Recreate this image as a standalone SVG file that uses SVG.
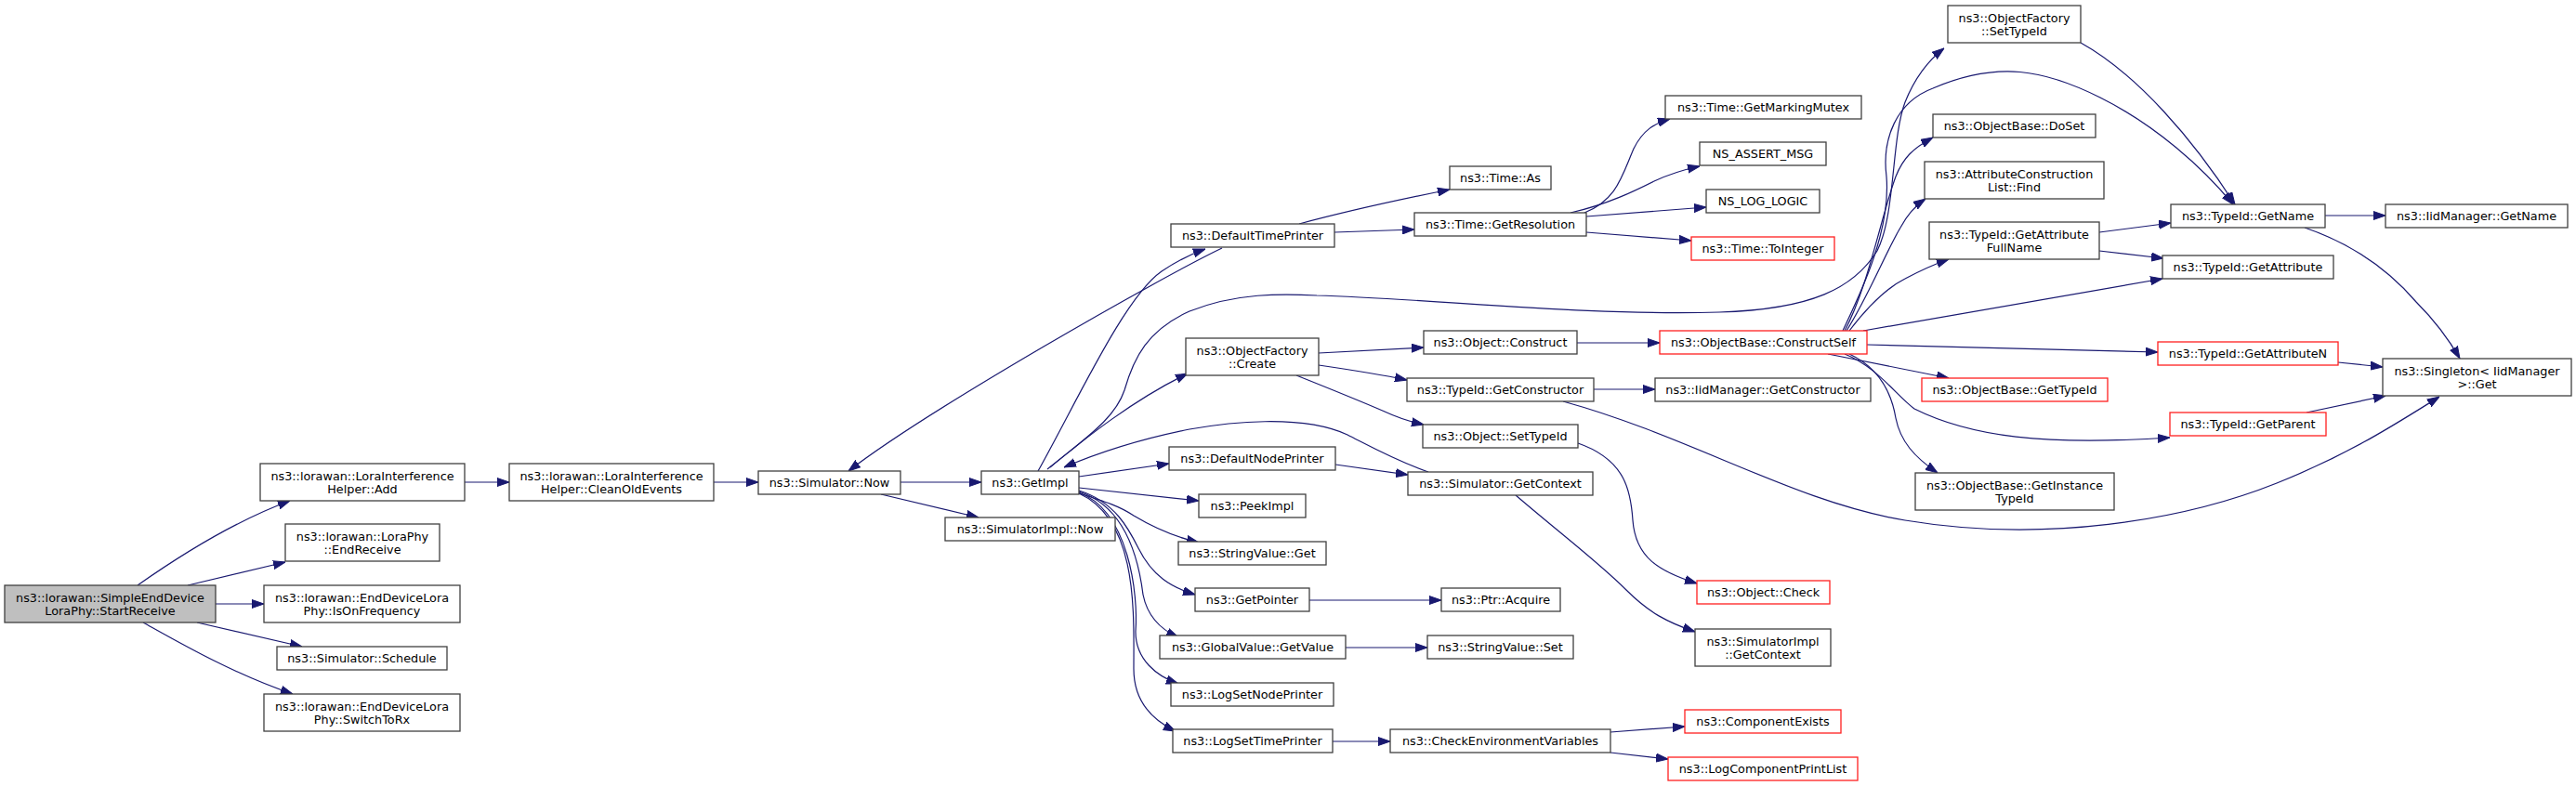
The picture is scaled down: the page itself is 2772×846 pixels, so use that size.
<svg xmlns="http://www.w3.org/2000/svg" width="2772" height="846" viewBox="0 0 2772 846">
<style>
rect{fill:#fff;stroke:#404040;stroke-width:1.3}
rect.g{fill:#bfbfbf}
rect.r{stroke:#ff2020}
text{font-family:"DejaVu Sans","Liberation Sans",sans-serif;font-size:12.8px;text-anchor:middle;fill:#000}
#edges path{fill:none;stroke:#191970;stroke-width:1.2;marker-end:url(#ah)}
</style>
<defs>
<marker id="ah" markerWidth="13" markerHeight="10" refX="13" refY="5" orient="auto" markerUnits="userSpaceOnUse"><path d="M0,0.5 L13,5 L0,9.5 z" fill="#191970" stroke="#191970" stroke-width="1"/></marker>
</defs>
<rect x="0" y="0" width="2772" height="846" style="fill:#fff;stroke:none"/>
<g id="edges">
<path d="M148,630 C195,597 255,560 312,539"/>
<path d="M202,630 L307,605"/>
<path d="M232,650 L284,650"/>
<path d="M212,670 L325,696"/>
<path d="M154,670 C190,690 250,725 315,747"/>
<path d="M500,519 L548,519"/>
<path d="M768,519 L816,519"/>
<path d="M969,519 L1056,519"/>
<path d="M948,532 L1053,557"/>
<path d="M1117,507 C1160,430 1210,320 1250,292 C1265,282 1280,274 1297,268"/>
<path d="M1315,267 C1250,298 1000,440 913,507"/>
<path d="M1398,241 C1450,227 1510,214 1560,204"/>
<path d="M1436,250 L1522,247"/>
<path d="M1705,229 C1740,215 1745,190 1758,160 C1768,140 1780,133 1797,128"/>
<path d="M1690,229 C1730,220 1760,205 1780,195 C1795,188 1810,183 1829,179"/>
<path d="M1707,233 L1836,223"/>
<path d="M1707,250 L1820,259"/>
<path d="M1127,505 C1170,470 1220,430 1278,402"/>
<path d="M1130,503 C1170,470 1200,450 1210,420 C1220,385 1235,355 1280,335 C1330,315 1380,316 1417,318 C1550,322 1700,340 1850,336 C1950,333 1995,310 2020,270 C2040,230 2035,150 2050,110 C2060,85 2075,65 2092,52"/>
<path d="M1537,508 C1500,495 1470,478 1450,468 C1400,445 1320,455 1280,462 C1230,472 1180,488 1145,503"/>
<path d="M1161,513 L1258,499"/>
<path d="M1437,500 L1515,511"/>
<path d="M1631,533 C1680,575 1720,605 1750,635 C1775,660 1795,670 1824,680"/>
<path d="M1161,525 L1290,539"/>
<path d="M1161,531 C1190,540 1205,545 1220,555 C1245,570 1265,578 1290,584"/>
<path d="M1161,528 C1200,540 1215,570 1225,590 C1240,620 1260,632 1286,640"/>
<path d="M1161,529 C1210,545 1225,600 1230,640 C1235,665 1250,678 1268,686"/>
<path d="M1161,530 C1215,550 1225,640 1222,680 C1222,710 1245,728 1268,736"/>
<path d="M1161,531 C1225,560 1220,660 1220,720 C1220,755 1240,775 1265,787"/>
<path d="M1409,646 L1551,646"/>
<path d="M1448,697 L1536,697"/>
<path d="M1434,798 L1496,798"/>
<path d="M1733,788 L1813,782"/>
<path d="M1733,810 L1795,817"/>
<path d="M1419,380 L1532,374"/>
<path d="M1419,393 C1460,399 1490,404 1514,409"/>
<path d="M1395,404 C1430,418 1460,430 1490,443 C1505,450 1518,454 1532,457"/>
<path d="M1697,369 L1786,369"/>
<path d="M1715,419 L1781,419"/>
<path d="M1682,432 C1820,470 1930,540 2050,560 C2200,585 2350,560 2450,520 C2530,488 2580,455 2625,427"/>
<path d="M1698,477 C1750,495 1755,530 1757,560 C1760,600 1785,615 1826,628"/>
<path d="M1967,381 L2097,407"/>
<path d="M2009,371 C2150,374 2250,377 2322,379"/>
<path d="M1985,381 C2020,395 2040,425 2060,440 C2120,470 2200,480 2335,471"/>
<path d="M1990,381 C2020,395 2035,420 2040,450 C2045,475 2060,492 2085,509"/>
<path d="M2005,356 L2327,300"/>
<path d="M1990,356 C2010,330 2030,310 2050,300 C2065,292 2080,285 2097,279"/>
<path d="M1987,356 C2010,320 2030,270 2045,245 C2052,232 2060,222 2072,214"/>
<path d="M1985,356 C2010,310 2025,230 2040,190 C2048,170 2058,160 2080,148"/>
<path d="M1983,356 C2000,320 2035,250 2030,190 C2025,150 2040,110 2080,95 C2150,65 2200,75 2260,105 C2320,135 2370,180 2403,220"/>
<path d="M2239,46 C2300,80 2360,150 2405,220"/>
<path d="M2259,250 L2336,240"/>
<path d="M2259,270 L2328,278"/>
<path d="M2502,232 L2567,232"/>
<path d="M2480,245 C2530,262 2570,290 2600,325 C2620,345 2635,365 2647,386"/>
<path d="M2516,390 L2564,395"/>
<path d="M2482,444 L2567,426"/>
</g>
<g id="n1"><rect class="g" x="5" y="630" width="227" height="40"/><text x="118.5" y="647.5">ns3::lorawan::SimpleEndDevice</text><text x="118.5" y="661.5">LoraPhy::StartReceive</text></g>
<g id="n2"><rect x="280" y="499" width="220" height="40"/><text x="390" y="516.5">ns3::lorawan::LoraInterference</text><text x="390" y="530.5">Helper::Add</text></g>
<g id="n3"><rect x="307" y="564" width="166" height="40"/><text x="390" y="581.5">ns3::lorawan::LoraPhy</text><text x="390" y="595.5">::EndReceive</text></g>
<g id="n4"><rect x="284" y="630" width="211" height="40"/><text x="389.5" y="647.5">ns3::lorawan::EndDeviceLora</text><text x="389.5" y="661.5">Phy::IsOnFrequency</text></g>
<g id="n5"><rect x="298" y="696" width="183" height="25"/><text x="389.5" y="713">ns3::Simulator::Schedule</text></g>
<g id="n6"><rect x="284" y="747" width="211" height="40"/><text x="389.5" y="764.5">ns3::lorawan::EndDeviceLora</text><text x="389.5" y="778.5">Phy::SwitchToRx</text></g>
<g id="n7"><rect x="548" y="499" width="220" height="40"/><text x="658" y="516.5">ns3::lorawan::LoraInterference</text><text x="658" y="530.5">Helper::CleanOldEvents</text></g>
<g id="n8"><rect x="816" y="507" width="153" height="25"/><text x="892.5" y="524">ns3::Simulator::Now</text></g>
<g id="n9"><rect x="1056" y="507" width="105" height="25"/><text x="1108.5" y="524">ns3::GetImpl</text></g>
<g id="n10"><rect x="1017" y="557" width="183" height="25"/><text x="1108.5" y="574">ns3::SimulatorImpl::Now</text></g>
<g id="n11"><rect x="1260" y="241" width="176" height="25"/><text x="1348" y="258">ns3::DefaultTimePrinter</text></g>
<g id="n12"><rect x="1276" y="364" width="143" height="40"/><text x="1347.5" y="381.5">ns3::ObjectFactory</text><text x="1347.5" y="395.5">::Create</text></g>
<g id="n13"><rect x="1258" y="481" width="179" height="25"/><text x="1347.5" y="498">ns3::DefaultNodePrinter</text></g>
<g id="n14"><rect x="1290" y="532" width="115" height="25"/><text x="1347.5" y="549">ns3::PeekImpl</text></g>
<g id="n15"><rect x="1268" y="583" width="159" height="25"/><text x="1347.5" y="600">ns3::StringValue::Get</text></g>
<g id="n16"><rect x="1286" y="633" width="123" height="25"/><text x="1347.5" y="650">ns3::GetPointer</text></g>
<g id="n17"><rect x="1248" y="684" width="200" height="25"/><text x="1348" y="701">ns3::GlobalValue::GetValue</text></g>
<g id="n18"><rect x="1260" y="735" width="175" height="25"/><text x="1347.5" y="752">ns3::LogSetNodePrinter</text></g>
<g id="n19"><rect x="1262" y="785" width="172" height="25"/><text x="1348" y="802">ns3::LogSetTimePrinter</text></g>
<g id="n20"><rect x="1560" y="179" width="109" height="25"/><text x="1614.5" y="196">ns3::Time::As</text></g>
<g id="n21"><rect x="1522" y="229" width="185" height="25"/><text x="1614.5" y="246">ns3::Time::GetResolution</text></g>
<g id="n22"><rect x="1532" y="356" width="165" height="25"/><text x="1614.5" y="373">ns3::Object::Construct</text></g>
<g id="n23"><rect x="1514" y="407" width="201" height="25"/><text x="1614.5" y="424">ns3::TypeId::GetConstructor</text></g>
<g id="n24"><rect x="1531" y="457" width="167" height="25"/><text x="1614.5" y="474">ns3::Object::SetTypeId</text></g>
<g id="n25"><rect x="1515" y="508" width="199" height="25"/><text x="1614.5" y="525">ns3::Simulator::GetContext</text></g>
<g id="n26"><rect x="1551" y="633" width="128" height="25"/><text x="1615" y="650">ns3::Ptr::Acquire</text></g>
<g id="n27"><rect x="1536" y="684" width="157" height="25"/><text x="1614.5" y="701">ns3::StringValue::Set</text></g>
<g id="n28"><rect x="1496" y="785" width="237" height="25"/><text x="1614.5" y="802">ns3::CheckEnvironmentVariables</text></g>
<g id="n29"><rect x="1792" y="103" width="211" height="25"/><text x="1897.5" y="120">ns3::Time::GetMarkingMutex</text></g>
<g id="n30"><rect x="1829" y="153" width="136" height="25"/><text x="1897" y="170">NS_ASSERT_MSG</text></g>
<g id="n31"><rect x="1836" y="204" width="122" height="25"/><text x="1897" y="221">NS_LOG_LOGIC</text></g>
<g id="n32"><rect class="r" x="1820" y="255" width="154" height="25"/><text x="1897" y="272">ns3::Time::ToInteger</text></g>
<g id="n33"><rect class="r" x="1786" y="356" width="223" height="25"/><text x="1897.5" y="373">ns3::ObjectBase::ConstructSelf</text></g>
<g id="n34"><rect x="1781" y="407" width="232" height="25"/><text x="1897" y="424">ns3::IidManager::GetConstructor</text></g>
<g id="n35"><rect class="r" x="1826" y="625" width="143" height="25"/><text x="1897.5" y="642">ns3::Object::Check</text></g>
<g id="n36"><rect x="1824" y="677" width="146" height="40"/><text x="1897" y="694.5">ns3::SimulatorImpl</text><text x="1897" y="708.5">::GetContext</text></g>
<g id="n37"><rect class="r" x="1813" y="764" width="168" height="25"/><text x="1897" y="781">ns3::ComponentExists</text></g>
<g id="n38"><rect class="r" x="1795" y="815" width="204" height="25"/><text x="1897" y="832">ns3::LogComponentPrintList</text></g>
<g id="n39"><rect x="2096" y="6" width="143" height="40"/><text x="2167.5" y="23.5">ns3::ObjectFactory</text><text x="2167.5" y="37.5">::SetTypeId</text></g>
<g id="n40"><rect x="2080" y="123" width="175" height="25"/><text x="2167.5" y="140">ns3::ObjectBase::DoSet</text></g>
<g id="n41"><rect x="2071" y="174" width="193" height="40"/><text x="2167.5" y="191.5">ns3::AttributeConstruction</text><text x="2167.5" y="205.5">List::Find</text></g>
<g id="n42"><rect x="2076" y="239" width="183" height="40"/><text x="2167.5" y="256.5">ns3::TypeId::GetAttribute</text><text x="2167.5" y="270.5">FullName</text></g>
<g id="n43"><rect class="r" x="2068" y="407" width="200" height="25"/><text x="2168" y="424">ns3::ObjectBase::GetTypeId</text></g>
<g id="n44"><rect x="2061" y="509" width="214" height="40"/><text x="2168" y="526.5">ns3::ObjectBase::GetInstance</text><text x="2168" y="540.5">TypeId</text></g>
<g id="n45"><rect x="2336" y="220" width="166" height="25"/><text x="2419" y="237">ns3::TypeId::GetName</text></g>
<g id="n46"><rect x="2327" y="275" width="184" height="25"/><text x="2419" y="292">ns3::TypeId::GetAttribute</text></g>
<g id="n47"><rect class="r" x="2322" y="368" width="194" height="25"/><text x="2419" y="385">ns3::TypeId::GetAttributeN</text></g>
<g id="n48"><rect class="r" x="2335" y="444" width="168" height="25"/><text x="2419" y="461">ns3::TypeId::GetParent</text></g>
<g id="n49"><rect x="2567" y="220" width="196" height="25"/><text x="2665" y="237">ns3::IidManager::GetName</text></g>
<g id="n50"><rect x="2564" y="386" width="203" height="40"/><text x="2665.5" y="403.5">ns3::Singleton&lt; IidManager</text><text x="2665.5" y="417.5">&gt;::Get</text></g>
</svg>
